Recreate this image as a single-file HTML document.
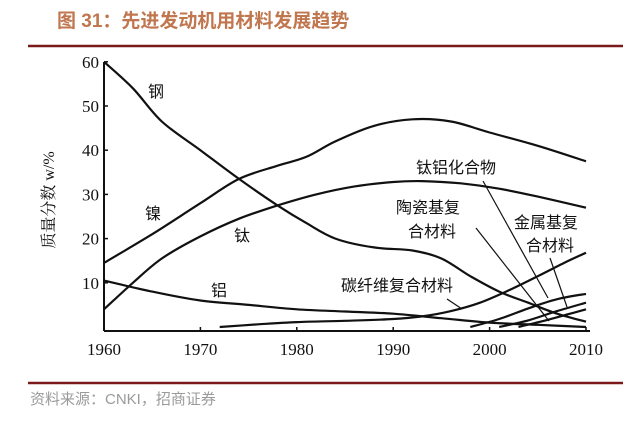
<!DOCTYPE html>
<html><head><meta charset="utf-8"><style>
html,body{margin:0;padding:0;background:#fff;width:623px;height:423px;overflow:hidden}
svg{display:block}
</style></head><body>
<svg width="623" height="423" viewBox="0 0 623 423" xmlns="http://www.w3.org/2000/svg">
<text x="57" y="27" font-family="Liberation Sans, Noto Sans CJK SC, sans-serif" font-size="19" font-weight="bold" fill="#c0774f">图 31：先进发动机用材料发展趋势</text>
<line x1="28" y1="46" x2="623" y2="46" stroke="#7a1a1a" stroke-width="2.5"/>
<line x1="28" y1="383" x2="623" y2="383" stroke="#7a1a1a" stroke-width="2.5"/>
<text x="30" y="404" font-family="Liberation Sans, Noto Sans CJK SC, sans-serif" font-size="15" fill="#9a9a9a">资料来源：CNKI，招商证券</text>
<g id="plot"></g>
</svg>
<script>
const years=[1960,1970,1980,1990,2000,2010];
const yTicks=[10,20,30,40,50,60];
const steelX=[1960,1963,1966,1970,1974,1978,1981,1984,1988,1992,1995,1998,2001,2004,2007,2010];
const steelY=[60,54,46.5,40,33.5,27.5,23.5,20,18,17.3,15.5,11.5,8,5.5,3,1.2];
const nickelX=[1960,1965,1970,1974,1978,1981,1984,1988,1992,1996,2000,2005,2010];
const nickelY=[14.5,21,28,33.5,36.5,38.5,42,45.5,47,46.5,44,41,37.5];
const titanX=[1960,1963,1966,1970,1974,1978,1982,1986,1990,1993,1997,2001,2005,2010];
const titanY=[4,10,15.5,20.5,24.5,27.5,30,31.8,32.8,33,32.5,31.3,29.5,27];
const alumX=[1960,1965,1970,1975,1980,1985,1990,1995,2000,2005,2010];
const alumY=[10.5,8,6,5,4,3.5,3,2,1,0.5,0];
const cfX=[1972,1976,1980,1985,1990,1993,1996,1999,2002,2005,2008,2010];
const cfY=[0,0.6,1.1,1.4,1.8,2.4,3.6,5.5,8.3,11.5,14.8,16.8];
const tialX=[1998,2001,2004,2007,2010];
const tialY=[0,1.8,4.2,6.3,7.5];
const cmcX=[2001,2004,2007,2010];
const cmcY=[0,1.5,3.6,5.5];
const mmcX=[2003,2006,2008,2010];
const mmcY=[0,1.6,2.8,4];
const NS='http://www.w3.org/2000/svg';
const g=document.getElementById('plot');
const X=v=>104+(v-1960)*9.64;
const Y=v=>327-v*4.42;
function mk(t,a){const e=document.createElementNS(NS,t);for(const k in a)e.setAttribute(k,a[k]);g.appendChild(e);return e;}
const F='Liberation Serif, Noto Serif CJK SC, serif';
let e=mk('line',{x1:104,y1:62,x2:104,y2:331,stroke:'#111','stroke-width':2});


e=mk('line',{x1:104,y1:331,x2:590,y2:331,stroke:'#111','stroke-width':2});


years.forEach(y=>{
 const t=mk('text',{x:X(y),y:355,'text-anchor':'middle','font-family':F,'font-size':17,fill:'#111'});
 t.textContent=y;
 
 
 const l=mk('line',{x1:X(y),y1:331,x2:X(y),y2:327,stroke:'#111','stroke-width':1.5});
 
 
});
yTicks.forEach(v=>{
 const t=mk('text',{x:99,y:Y(v)+6,'text-anchor':'end','font-family':F,'font-size':17,fill:'#111'});
 t.textContent=v;
 
 
 const l=mk('line',{x1:104,y1:Y(v),x2:108,y2:Y(v),stroke:'#111','stroke-width':1.5});
 
 
});
const yt=mk('text',{x:0,y:0,transform:'translate(54,200) rotate(-90)','text-anchor':'middle','font-family':F,'font-size':16,fill:'#111'});
yt.textContent='质量分数 w/%';


function smooth(xs,ys){
 const p=xs.map((x,i)=>[X(x),Y(ys[i])]);
 let d='M'+p[0][0].toFixed(1)+','+p[0][1].toFixed(1);
 for(let i=0;i<p.length-1;i++){
  const p0=p[i-1]||p[i],p1=p[i],p2=p[i+1],p3=p[i+2]||p2;
  const c1=[p1[0]+(p2[0]-p0[0])/6,p1[1]+(p2[1]-p0[1])/6];
  const c2=[p2[0]-(p3[0]-p1[0])/6,p2[1]-(p3[1]-p1[1])/6];
  d+=' C'+c1.map(v=>v.toFixed(1))+' '+c2.map(v=>v.toFixed(1))+' '+p2.map(v=>v.toFixed(1));
 }
 return d;
}
const series=[['steel',steelX,steelY],['nickel',nickelX,nickelY],['titanium',titanX,titanY],['aluminum',alumX,alumY],['carbon-fiber',cfX,cfY],['tial',tialX,tialY],['cmc',cmcX,cmcY],['mmc',mmcX,mmcY]];
series.forEach(s=>{
 const p=mk('path',{d:smooth(s[1],s[2]),fill:'none',stroke:'#111','stroke-width':2.2});
 
 
});
const labels=[['钢',148,97,'steel-label'],['镍',145,219,'nickel-label'],['钛',234,241,'titanium-label'],['铝',211,296,'aluminum-label'],
['钛铝化合物',416,173,'tial-label'],['陶瓷基复',396,213,'cmc-label-1'],['合材料',408,237,'cmc-label-2'],['金属基复',514,228,'mmc-label-1'],['合材料',526,251,'mmc-label-2'],['碳纤维复合材料',341,291,'carbon-fiber-label']];
labels.forEach(l=>{
 const t=mk('text',{x:l[1],y:l[2],'font-family':'Liberation Sans, Noto Sans CJK SC, sans-serif','font-size':16,fill:'#111'});
 t.textContent=l[0];
 
 
});
const leaders=[[483,181,548,298],[476,228,549,321],[550,258,567,307],[447,299,462,309]];
leaders.forEach(a=>{
 const l=mk('line',{x1:a[0],y1:a[1],x2:a[2],y2:a[3],stroke:'#111','stroke-width':1.2});
 
 
});
</script>
</body></html>
